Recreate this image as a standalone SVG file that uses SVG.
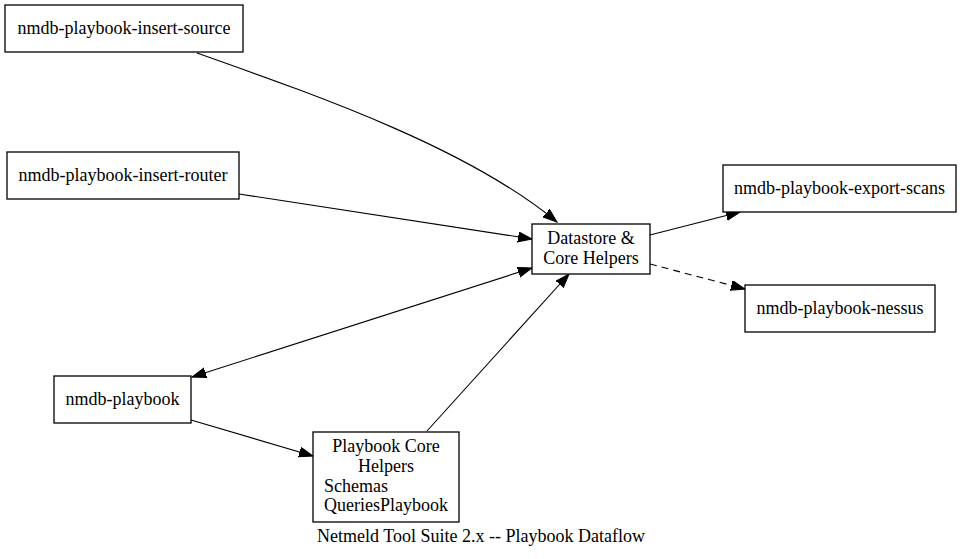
<svg xmlns="http://www.w3.org/2000/svg" width="963" height="559" viewBox="0 0 963 559">
<style>
.n{fill:#fff;stroke:#000;stroke-width:1.3}
text{font-family:"Liberation Serif","Times New Roman",serif;font-size:18px;fill:#000}
.c{text-anchor:middle}
.e{fill:none;stroke:#000;stroke-width:1.1}
.d{stroke-dasharray:7,5}
</style>
<defs>
<marker id="a" markerUnits="userSpaceOnUse" markerWidth="16" markerHeight="12" refX="14" refY="5" orient="auto-start-reverse" viewBox="0 0 16 12">
<path d="M0,0 L14,5 L0,10 Z" fill="#000" stroke="#000"/>
</marker>
</defs>
<rect width="963" height="559" fill="#fff"/>
<g id="edges">
<path class="e" d="M197,53 C330,100 470,150 557,222" marker-end="url(#a)"/>
<path class="e" d="M239,194 L532,239" marker-end="url(#a)"/>
<path class="e" d="M650,235 L740,212" marker-end="url(#a)"/>
<path class="e d" d="M650,264 L745,289" marker-end="url(#a)"/>
<path class="e" d="M192,377 L532,268" marker-start="url(#a)" marker-end="url(#a)"/>
<path class="e" d="M191,420 L313,456" marker-end="url(#a)"/>
<path class="e" d="M427,431 L569,274" marker-end="url(#a)"/>
</g>
<g id="insert-source"><rect class="n" x="5" y="5" width="238" height="47"/><text class="c" x="124" y="34">nmdb-playbook-insert-source</text></g>
<g id="insert-router"><rect class="n" x="7" y="152" width="232" height="47"/><text class="c" x="123" y="181">nmdb-playbook-insert-router</text></g>
<g id="datastore"><rect class="n" x="532" y="224" width="118" height="50"/><text class="c" x="591" y="244">Datastore &amp;</text><text class="c" x="591" y="264">Core Helpers</text></g>
<g id="export-scans"><rect class="n" x="723" y="165" width="233" height="47"/><text class="c" x="839.5" y="194">nmdb-playbook-export-scans</text></g>
<g id="nessus"><rect class="n" x="745" y="285" width="190" height="47"/><text class="c" x="840" y="314">nmdb-playbook-nessus</text></g>
<g id="playbook"><rect class="n" x="54" y="376" width="137" height="47"/><text class="c" x="122.5" y="405">nmdb-playbook</text></g>
<g id="core-helpers"><rect class="n" x="313" y="432" width="146" height="90"/><text class="c" x="386" y="452">Playbook Core</text><text class="c" x="386" y="472">Helpers</text><text x="324" y="492">Schemas</text><text x="324" y="511">QueriesPlaybook</text></g>
<text class="c" x="481" y="542">Netmeld Tool Suite 2.x -- Playbook Dataflow</text>
</svg>
